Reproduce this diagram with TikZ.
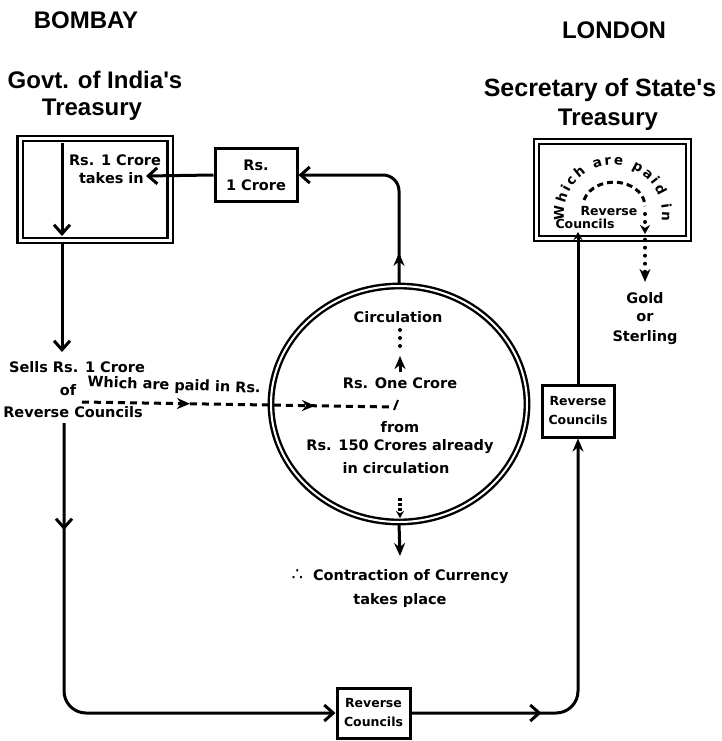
\documentclass[tikz,border=0pt]{standalone}
\usepackage{fontspec}
\setmainfont{DejaVu Sans}
\newfontfamily\hdfont{Liberation Sans}
\usetikzlibrary{arrows.meta,shapes.geometric,decorations.markings,decorations.text}
\tikzset{
  barb/.tip={Straight Barb[length=9pt,width=16pt,line width=3pt]},
  stl/.tip={Stealth[length=13pt,width=11pt]},
}
\begin{document}
\begin{tikzpicture}[x=1pt,y=1pt,
  ln/.style={line width=3pt},
  hd/.style={font=\hdfont\bfseries\fontsize{24}{30}\selectfont, inner sep=0},
  tx/.style={font=\bfseries\fontsize{14.5}{20}\selectfont, inner sep=0, align=center},
  txs/.style={font=\bfseries\fontsize{12.5}{19}\selectfont, inner sep=0, align=center},
  tbox/.style={draw, line width=2.4pt, double, double distance=3pt, inner sep=0},
  sbox/.style={draw, line width=3pt, inner sep=0, align=center},
  dotline/.style={line width=4pt, dash pattern=on 0pt off 8pt, line cap=round},
  midarrow/.style n args={2}{postaction={decorate}, decoration={markings, mark=at position #1 with {\arrow{#2}}}},
]
\useasboundingbox (0,0) rectangle (721,-741);

% headings
\node[hd] (bom) at (86,-20) {BOMBAY};
\node[hd] (lon) at (614,-30) {LONDON};
\node[hd] (gov) at (95,-80) {Govt. of India's};
\node[hd] (gtr) at (92,-110) {Treasury};
\node[hd, font=\hdfont\bfseries\fontsize{25}{30}\selectfont] (sec) at (600,-90) {Secretary of State's};
\node[hd] (str) at (608,-120) {Treasury};

% treasury boxes
\node[tbox, minimum width=150pt, minimum height=102pt] (lt) at (95,-189.5) {};
\node[tbox, minimum width=152pt, minimum height=97pt] (rt) at (612.5,-190) {};

% small boxes
\node[sbox, tx, minimum width=82pt, minimum height=53pt] (sb) at (256,-175) {Rs.\\1 Crore};
\node[sbox, txs, minimum width=73pt, minimum height=50pt] (bb) at (373.5,-713) {Reverse\\Councils};
\node[sbox, txs, minimum width=72pt, minimum height=52pt] (rb) at (578,-411) {Reverse\\Councils};

% circle
\node[ellipse, draw, line width=2.4pt, double, double distance=2pt, minimum width=256pt, minimum height=236pt] (circ) at (399,-404) {};

% texts in left box
\node[tx] (l1) at (115,-160) {Rs. 1 Crore};
\node[tx, anchor=east] (l2) at (144,-178) {takes in};

% texts left column
\node[tx] (sells) at (77,-367) {Sells Rs. 1 Crore};
\node[tx] (of) at (68,-390) {of};
\node[tx, rotate=-2] (paid) at (174,-386) {Which are paid in Rs.};
\node[tx] (revl) at (73,-412) {Reverse Councils};

% texts in circle
\node[tx] (c1) at (398,-317) {Circulation};
\node[tx] (c2) at (400,-383) {Rs. One Crore};
\node[tx] (c3) at (400,-427) {from};
\node[tx] (c4) at (400,-447) {Rs. 150 Crores already};
\node[tx] (c5) at (396,-468) {in circulation};

% below circle
\node[tx] (con) at (400,-577) {{\mdseries\fontsize{18}{20}\selectfont ∴}\ \ Contraction of Currency};
\node[tx] (tp) at (400,-600) {takes place};

% right side texts
\node[tx] (gold) at (645,-298) {Gold};
\node[tx] (or) at (645,-318) {or};
\node[tx] (ster) at (645,-338) {Sterling};
\node[txs] (rrev) at (609,-211) {Reverse};
\node[txs] (rcou) at (585,-224) {Councils};

% arc text in right box
\path[decorate, decoration={text along path, text align=fit to path,
  text={|\bfseries\fontsize{13.5}{16}\selectfont|Which are paid in}}]
  (613,-214) ++(188:49) arc[start angle=188, end angle=-8, radius=49];

% connectors
\draw[ln, -{barb}] (62,-143) -- (62,-236);
\draw[ln, -{barb}] (lt.south -| 62,0) -- (62,-352);
\draw[ln, -{barb}] (sb.west) -- (146,-176);
\draw[ln, rounded corners=16pt, midarrow={32pt}{stl}, -{barb}] (circ.north) |- (sb.east);
\draw[ln, rounded corners=22pt, midarrow={107pt}{barb}, -{barb}] (64,-423) |- (bb.west);
\draw[ln, rounded corners=22pt, midarrow={130pt}{barb}, -{stl}] (bb.east) -| (rb.south);
\draw[ln, -{Stealth[length=8pt,width=9pt]}] (rb.north) -- (578,-232);

% dashed flow
\draw[ln, dash pattern=on 7pt off 5pt, postaction={decorate},
  decoration={markings, mark=at position 108pt with {\arrow{stl}}, mark=at position 233pt with {\arrow{stl}}}]
  (82,-402) -- (392,-407);
\draw[line width=2pt] (394,-410) -- (398,-400);

% dotted inside circle
\draw[dotline] (400,-330) -- (400,-352);
\draw[ln, -{stl}] (400,-372) -- (400,-356);
\draw[ln, line width=4pt, dash pattern=on 3pt off 2pt, -{Stealth[length=7pt,width=8pt]}] (400,-498) -- (400,-518);
\draw[ln, -{stl}] (circ.south) -- (400,-556);

% right box arcs
\draw[ln, dash pattern=on 6pt off 4pt] (584,-200) arc[start angle=165, end angle=0, x radius=31, y radius=24];
\draw[dotline, -{Stealth[length=9pt,width=10pt]}] (645,-214) -- (645,-234);
\draw[dotline, -{stl}] (rt.south -| 645,0) -- (645,-282);
\end{tikzpicture}
\end{document}
